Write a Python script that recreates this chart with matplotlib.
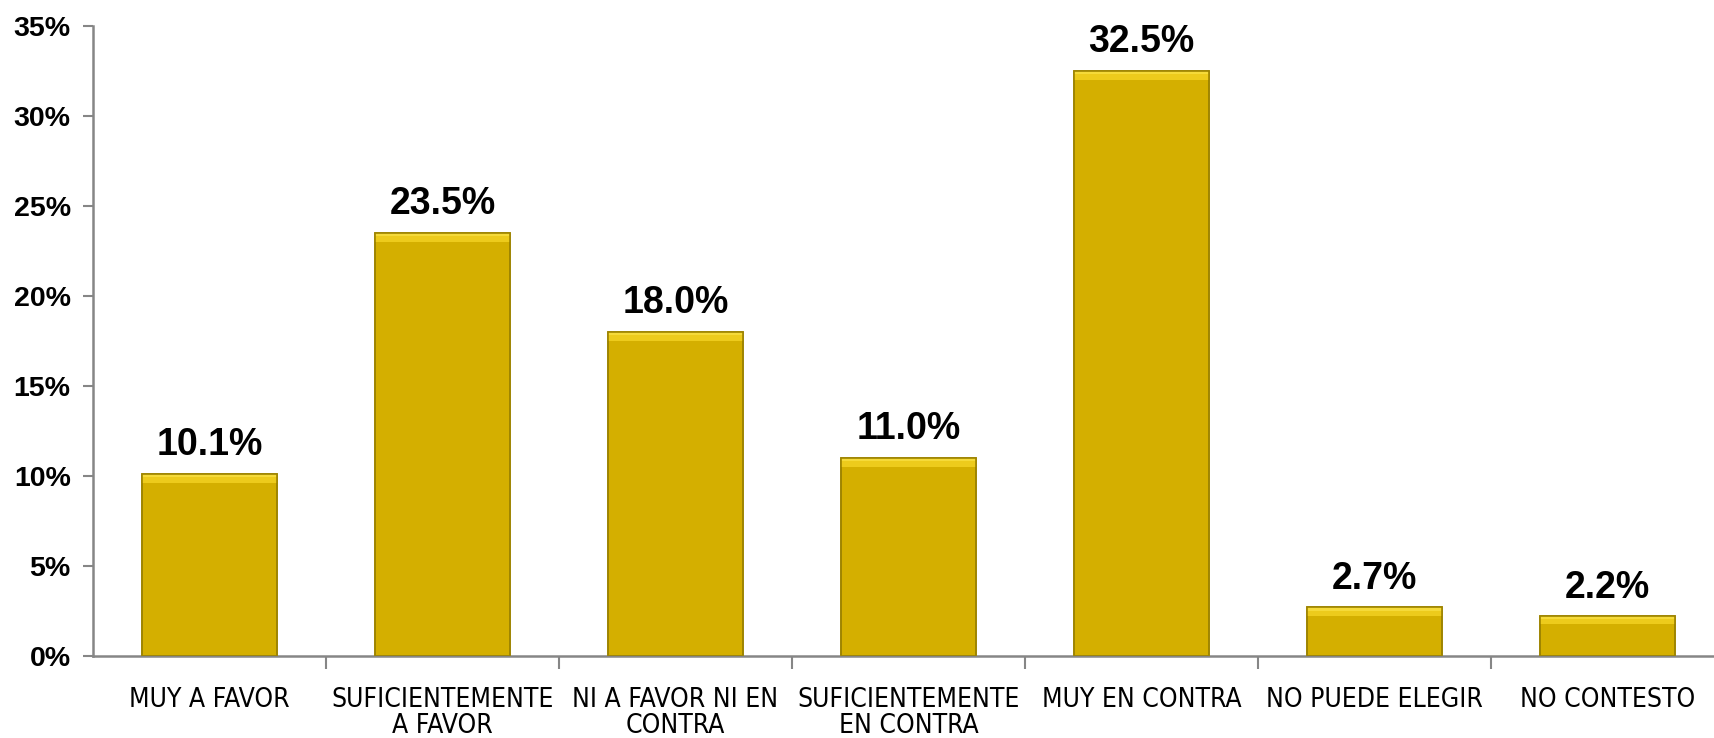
import numpy as np
import matplotlib
matplotlib.use("Agg")
import matplotlib.pyplot as plt
from matplotlib.ticker import FixedLocator, FuncFormatter

categories = ["MUY A FAVOR", "SUFICIENTEMENTE\nA FAVOR", "NI A FAVOR NI EN\nCONTRA",
              "SUFICIENTEMENTE\nEN CONTRA", "MUY EN CONTRA", "NO PUEDE ELEGIR", "NO CONTESTO"]
values = [10.1, 23.5, 18.0, 11.0, 32.5, 2.7, 2.2]
y_ticks = [0, 5, 10, 15, 20, 25, 30, 35]

bar_color = "#D4AF00"
light_color = "#EDCB1C"
top_color = "#F5DA3A"
edge_color = "#9E8400"
axis_color = "#868686"

plt.rcParams['font.family'] = ['Liberation Sans', 'DejaVu Sans']

fig = plt.figure(figsize=(17.15, 7.38), dpi=100)
ax = fig.add_axes([0.0542, 0.111, 0.9458, 0.8538])

x = np.arange(len(categories))
width = 0.58
vals = np.array(values)
ax.bar(x, vals, width=width, color=bar_color, edgecolor=edge_color, linewidth=1.2, zorder=2)
# bevel highlight along top of each bar
bevel = np.minimum(0.5, vals * 0.18)
ax.bar(x, bevel, width=width, bottom=vals - bevel, color=light_color, edgecolor="none", zorder=3)
ax.bar(x, bevel * 0.35, width=width, bottom=vals - bevel * 0.35, color=top_color,
       edgecolor="none", zorder=3)
ax.bar(x, vals, width=width, color="none", edgecolor=edge_color, linewidth=1.2, zorder=4)

for xi, v in zip(x, values):
    ax.text(xi, v + 0.6, "{:.1f}%".format(v), ha="center", va="bottom",
            fontsize=27, fontweight="bold")

ax.set_ylim(0, 35)
ax.set_xlim(-0.5, 6.462)
ax.yaxis.set_major_locator(FixedLocator(y_ticks))
ax.yaxis.set_major_formatter(FuncFormatter(lambda v, p: "{:d}%".format(int(v))))
for lab in ax.get_yticklabels():
    lab.set_fontweight("bold")
    lab.set_fontsize(20.5)
ax.tick_params(axis="y", length=7, width=1.5, color=axis_color, pad=9)

ax.set_xticks(x)
ax.set_xticklabels(categories, linespacing=1.0)
for lab in ax.get_xticklabels():
    lab.set_family(['DejaVu Sans'])
    lab.set_stretch("condensed")
    lab.set_fontsize(19)
ax.tick_params(axis="x", which="major", length=0, pad=22)
ax.set_xticks(np.arange(0.5, len(categories) - 0.5, 1), minor=True)
ax.tick_params(axis="x", which="minor", length=9, width=1.5, color=axis_color)

for side in ["top", "right"]:
    ax.spines[side].set_visible(False)
for side in ["left", "bottom"]:
    ax.spines[side].set_color(axis_color)
    ax.spines[side].set_linewidth(1.8)

fig.savefig("out.png", dpi=100)
